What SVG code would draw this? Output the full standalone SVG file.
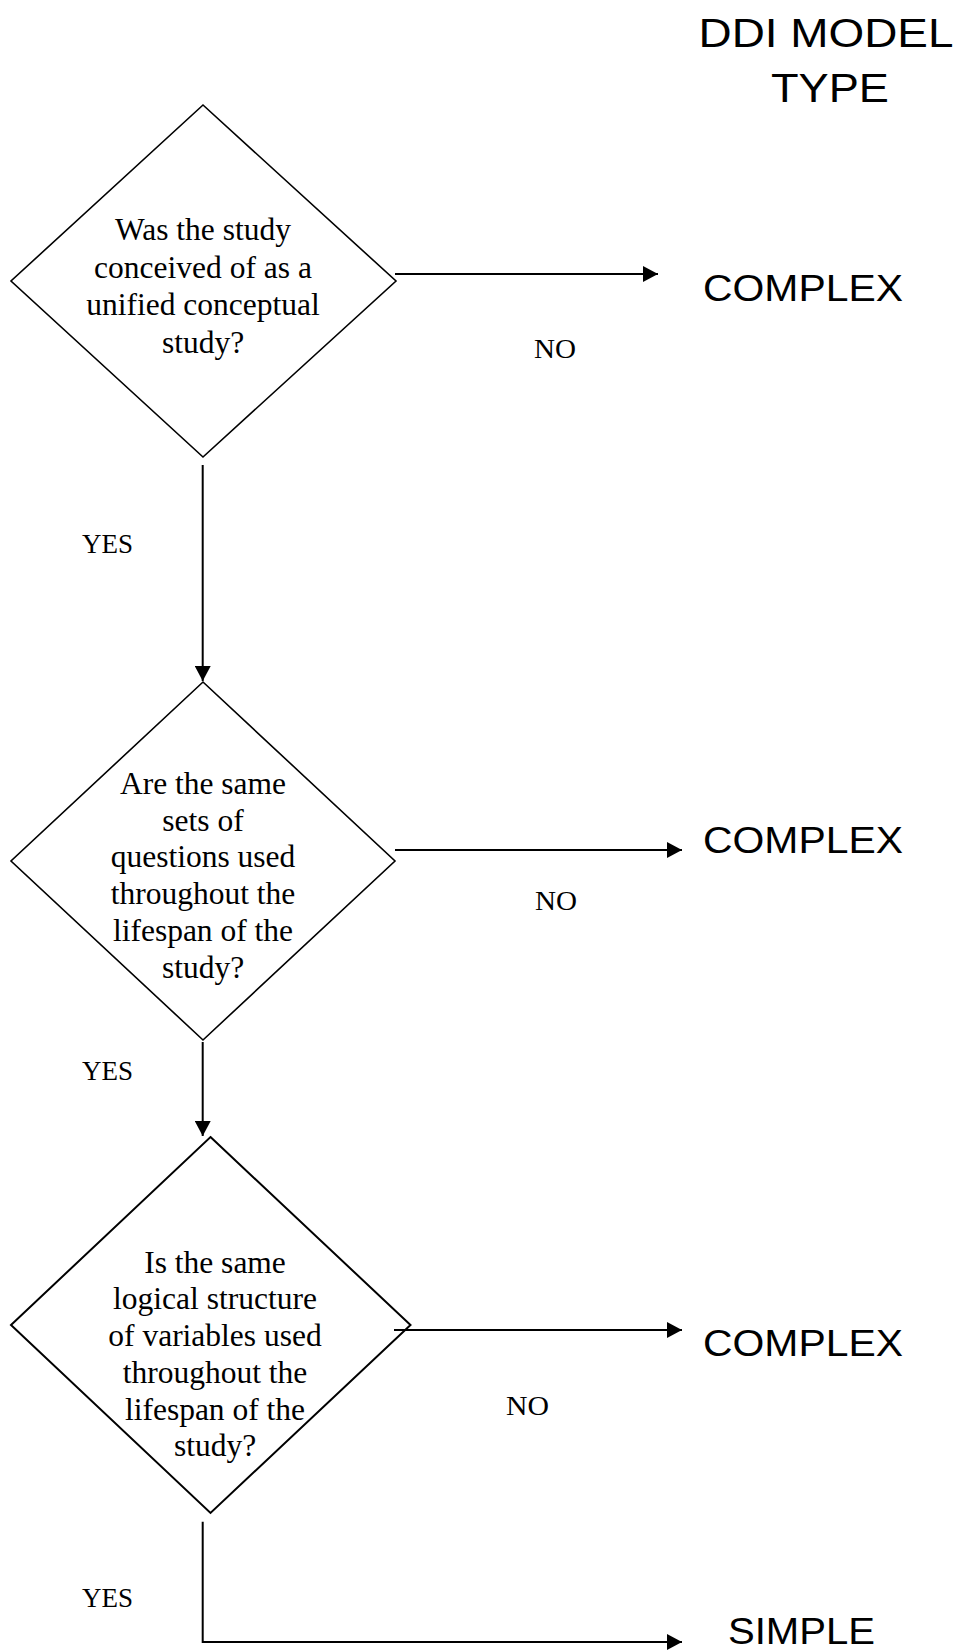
<svg xmlns="http://www.w3.org/2000/svg" width="965" height="1650" viewBox="0 0 965 1650">
<style>
.q{font-family:"Liberation Serif","Times New Roman",serif;font-size:31.5px;fill:#000;text-anchor:middle}
.lbl{font-family:"Liberation Serif","Times New Roman",serif;font-size:27px;fill:#000}
.res{font-family:"Liberation Sans",Arial,sans-serif;font-size:36px;fill:#000}
.hd{font-family:"Liberation Sans",Arial,sans-serif;font-size:41px;fill:#000;text-anchor:middle}
.dia{fill:none;stroke:#000;stroke-width:1.6}
.con{fill:none;stroke:#000;stroke-width:2}
</style>
<defs>
<marker id="ah" markerUnits="userSpaceOnUse" markerWidth="16" markerHeight="16" refX="15" refY="8" orient="auto">
<path d="M0,0 L15,8 L0,16 z" fill="#000"/>
</marker>
</defs>
<rect width="965" height="1650" fill="#fff"/>
<g id="title">
<text class="hd" x="826" y="47" textLength="255" lengthAdjust="spacingAndGlyphs">DDI MODEL</text>
<text class="hd" x="830" y="102" textLength="118" lengthAdjust="spacingAndGlyphs">TYPE</text>
</g>
<g id="q1">
<polygon class="dia" points="203,105 396,281 203,457 11,281"/>
<text class="q" x="203" y="240">Was the study</text>
<text class="q" x="203" y="277.7">conceived of as a</text>
<text class="q" x="203" y="315.4">unified conceptual</text>
<text class="q" x="203" y="353">study?</text>
</g>
<g id="q2">
<polygon class="dia" points="203,682 395,861 203,1040 11,861"/>
<text class="q" x="203" y="794">Are the same</text>
<text class="q" x="203" y="830.7">sets of</text>
<text class="q" x="203" y="867.4">questions used</text>
<text class="q" x="203" y="904.1">throughout the</text>
<text class="q" x="203" y="940.8">lifespan of the</text>
<text class="q" x="203" y="977.5">study?</text>
</g>
<g id="q3">
<polygon class="dia" points="210.5,1137 410.5,1325 210.5,1513 11,1325" style="stroke-width:2"/>
<text class="q" x="215" y="1272.7">Is the same</text>
<text class="q" x="215" y="1309.4">logical structure</text>
<text class="q" x="215" y="1346.1">of variables used</text>
<text class="q" x="215" y="1382.8">throughout the</text>
<text class="q" x="215" y="1419.5">lifespan of the</text>
<text class="q" x="215" y="1456.2">study?</text>
</g>
<g id="r1"><text class="res" x="703" y="301" textLength="200" lengthAdjust="spacingAndGlyphs">COMPLEX</text></g>
<g id="r2"><text class="res" x="703" y="853" textLength="200" lengthAdjust="spacingAndGlyphs">COMPLEX</text></g>
<g id="r3"><text class="res" x="703" y="1356" textLength="200" lengthAdjust="spacingAndGlyphs">COMPLEX</text></g>
<g id="r4"><text class="res" x="728" y="1644" textLength="147" lengthAdjust="spacingAndGlyphs">SIMPLE</text></g>
<g id="connectors">
<line class="con" x1="395" y1="274" x2="658" y2="274" marker-end="url(#ah)"/>
<line class="con" x1="202.7" y1="465" x2="202.7" y2="681" marker-end="url(#ah)"/>
<line class="con" x1="395" y1="850" x2="682" y2="850" marker-end="url(#ah)"/>
<line class="con" x1="202.7" y1="1042" x2="202.7" y2="1136" marker-end="url(#ah)"/>
<line class="con" x1="394" y1="1330" x2="682" y2="1330" marker-end="url(#ah)"/>
<polyline class="con" points="202.7,1521.7 202.7,1642 682,1642" marker-end="url(#ah)"/>
</g>
<g id="labels">
<text class="lbl" x="534" y="358" textLength="42" lengthAdjust="spacingAndGlyphs">NO</text>
<text class="lbl" x="535" y="910" textLength="42" lengthAdjust="spacingAndGlyphs">NO</text>
<text class="lbl" x="506" y="1415" textLength="43" lengthAdjust="spacingAndGlyphs">NO</text>
<text class="lbl" x="82" y="553">YES</text>
<text class="lbl" x="82" y="1080">YES</text>
<text class="lbl" x="82" y="1607">YES</text>
</g>
</svg>
